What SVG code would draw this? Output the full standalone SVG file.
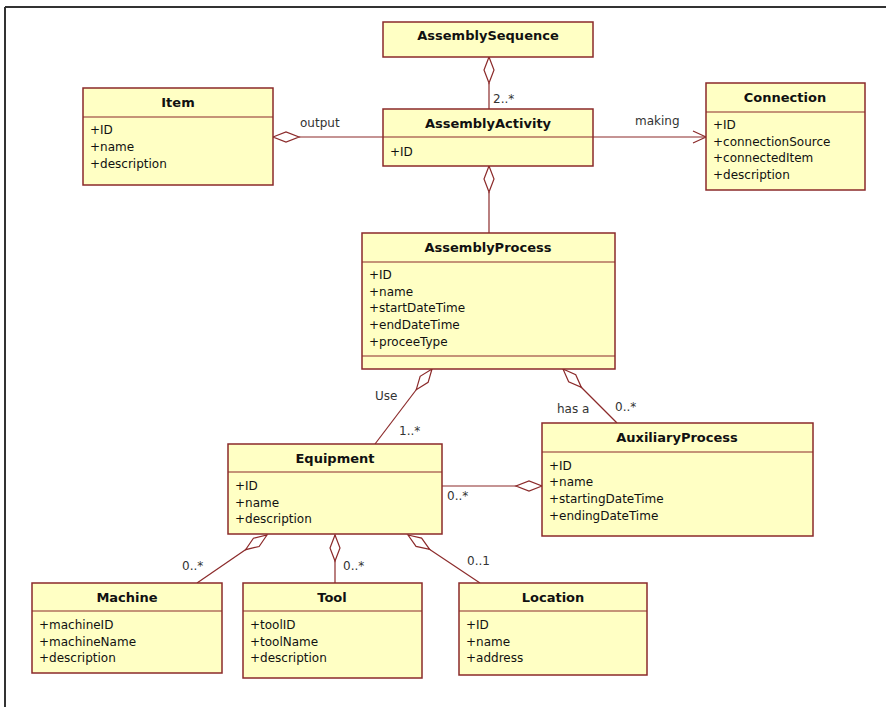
<svg xmlns="http://www.w3.org/2000/svg" width="886" height="707" viewBox="0 0 886 707">
<defs>
<style>
.box{fill:#FFFFC4;stroke:#8B2A2A;stroke-width:1.5}
.sep{stroke:#8B2A2A;stroke-width:1.2}
.t{font-family:"DejaVu Sans",Verdana,sans-serif;font-size:13px;font-weight:bold;fill:#111;text-anchor:middle}
.a{font-family:"DejaVu Sans",Verdana,sans-serif;font-size:12px;fill:#111}
.l{font-family:"DejaVu Sans",Verdana,sans-serif;font-size:12px;fill:#333}
.c{stroke:#8B2A2A;stroke-width:1.2;fill:none}
.d{fill:#fff;stroke:#8B2A2A;stroke-width:1.2}
</style>
<path id="dia" d="M0,0 L13,-5 L26,0 L13,5 Z"/>
</defs>
<rect width="886" height="707" fill="#fff"/>
<path d="M5,7 H886 M5,7 V707" stroke="#333" stroke-width="2" fill="none"/>

<g id="connectors">
<line class="c" x1="299" y1="137" x2="383" y2="137"/>
<use href="#dia" class="d" transform="translate(273,137)"/>
<text class="l" x="300" y="127">output</text>

<line class="c" x1="593" y1="137" x2="706" y2="137"/>
<path class="c" d="M693,131 L706,137 L693,143"/>
<text class="l" x="635" y="125">making</text>

<line class="c" x1="489" y1="83" x2="489" y2="109"/>
<use href="#dia" class="d" transform="translate(489,57) rotate(90)"/>
<text class="l" x="493" y="103">2..*</text>

<line class="c" x1="489" y1="192" x2="489" y2="233"/>
<use href="#dia" class="d" transform="translate(489,166) rotate(90)"/>

<line class="c" x1="432" y1="369" x2="375" y2="444"/>
<use href="#dia" class="d" transform="translate(432,369) rotate(127.23)"/>
<text class="l" x="375" y="400">Use</text>
<text class="l" x="399" y="435">1..*</text>

<line class="c" x1="563" y1="369" x2="617" y2="423"/>
<use href="#dia" class="d" transform="translate(563,369) rotate(45)"/>
<text class="l" x="557" y="413">has a</text>
<text class="l" x="615" y="411">0..*</text>

<line class="c" x1="442" y1="486" x2="542" y2="486"/>
<use href="#dia" class="d" transform="translate(542,486) rotate(180)"/>
<text class="l" x="447" y="500">0..*</text>

<line class="c" x1="267" y1="535" x2="197" y2="583"/>
<use href="#dia" class="d" transform="translate(267,535) rotate(145.56)"/>
<text class="l" x="182" y="570">0..*</text>

<line class="c" x1="335" y1="535" x2="335" y2="583"/>
<use href="#dia" class="d" transform="translate(335,535) rotate(90)"/>
<text class="l" x="343" y="570">0..*</text>

<line class="c" x1="408" y1="535" x2="480" y2="583"/>
<use href="#dia" class="d" transform="translate(408,535) rotate(33.69)"/>
<text class="l" x="467" y="565">0..1</text>
</g>

<g id="AssemblySequence">
<rect class="box" x="383" y="22" width="210" height="35"/>
<text class="t" x="488" y="40">AssemblySequence</text>
</g>

<g id="Item">
<rect class="box" x="83" y="88" width="190" height="97"/>
<line class="sep" x1="83" y1="117" x2="273" y2="117"/>
<text class="t" x="178" y="107">Item</text>
<text class="a" x="90" y="134">+ID</text>
<text class="a" x="90" y="151">+name</text>
<text class="a" x="90" y="168">+description</text>
</g>

<g id="AssemblyActivity">
<rect class="box" x="383" y="109" width="210" height="57"/>
<line class="sep" x1="383" y1="137" x2="593" y2="137"/>
<text class="t" x="488" y="128">AssemblyActivity</text>
<text class="a" x="390" y="156">+ID</text>
</g>

<g id="Connection">
<rect class="box" x="706" y="83" width="159" height="107"/>
<line class="sep" x1="706" y1="112" x2="865" y2="112"/>
<text class="t" x="785" y="102">Connection</text>
<text class="a" x="713" y="129">+ID</text>
<text class="a" x="713" y="146">+connectionSource</text>
<text class="a" x="713" y="162">+connectedItem</text>
<text class="a" x="713" y="179">+description</text>
</g>

<g id="AssemblyProcess">
<rect class="box" x="362" y="233" width="253" height="136"/>
<line class="sep" x1="362" y1="262" x2="615" y2="262"/>
<line class="sep" x1="362" y1="356" x2="615" y2="356"/>
<text class="t" x="488" y="252">AssemblyProcess</text>
<text class="a" x="369" y="279">+ID</text>
<text class="a" x="369" y="296">+name</text>
<text class="a" x="369" y="312">+startDateTime</text>
<text class="a" x="369" y="329">+endDateTime</text>
<text class="a" x="369" y="346">+proceeType</text>
</g>

<g id="Equipment">
<rect class="box" x="228" y="444" width="214" height="90"/>
<line class="sep" x1="228" y1="472" x2="442" y2="472"/>
<text class="t" x="335" y="463">Equipment</text>
<text class="a" x="235" y="490">+ID</text>
<text class="a" x="235" y="507">+name</text>
<text class="a" x="235" y="523">+description</text>
</g>

<g id="AuxiliaryProcess">
<rect class="box" x="542" y="423" width="271" height="113"/>
<line class="sep" x1="542" y1="452" x2="813" y2="452"/>
<text class="t" x="677" y="442">AuxiliaryProcess</text>
<text class="a" x="549" y="470">+ID</text>
<text class="a" x="549" y="486">+name</text>
<text class="a" x="549" y="503">+startingDateTime</text>
<text class="a" x="549" y="520">+endingDateTime</text>
</g>

<g id="Machine">
<rect class="box" x="32" y="583" width="190" height="90"/>
<line class="sep" x1="32" y1="611" x2="222" y2="611"/>
<text class="t" x="127" y="602">Machine</text>
<text class="a" x="39" y="629">+machineID</text>
<text class="a" x="39" y="646">+machineName</text>
<text class="a" x="39" y="662">+description</text>
</g>

<g id="Tool">
<rect class="box" x="243" y="583" width="179" height="95"/>
<line class="sep" x1="243" y1="611" x2="422" y2="611"/>
<text class="t" x="332" y="602">Tool</text>
<text class="a" x="250" y="629">+toolID</text>
<text class="a" x="250" y="646">+toolName</text>
<text class="a" x="250" y="662">+description</text>
</g>

<g id="Location">
<rect class="box" x="459" y="583" width="188" height="92"/>
<line class="sep" x1="459" y1="611" x2="647" y2="611"/>
<text class="t" x="553" y="602">Location</text>
<text class="a" x="466" y="629">+ID</text>
<text class="a" x="466" y="646">+name</text>
<text class="a" x="466" y="662">+address</text>
</g>
</svg>
